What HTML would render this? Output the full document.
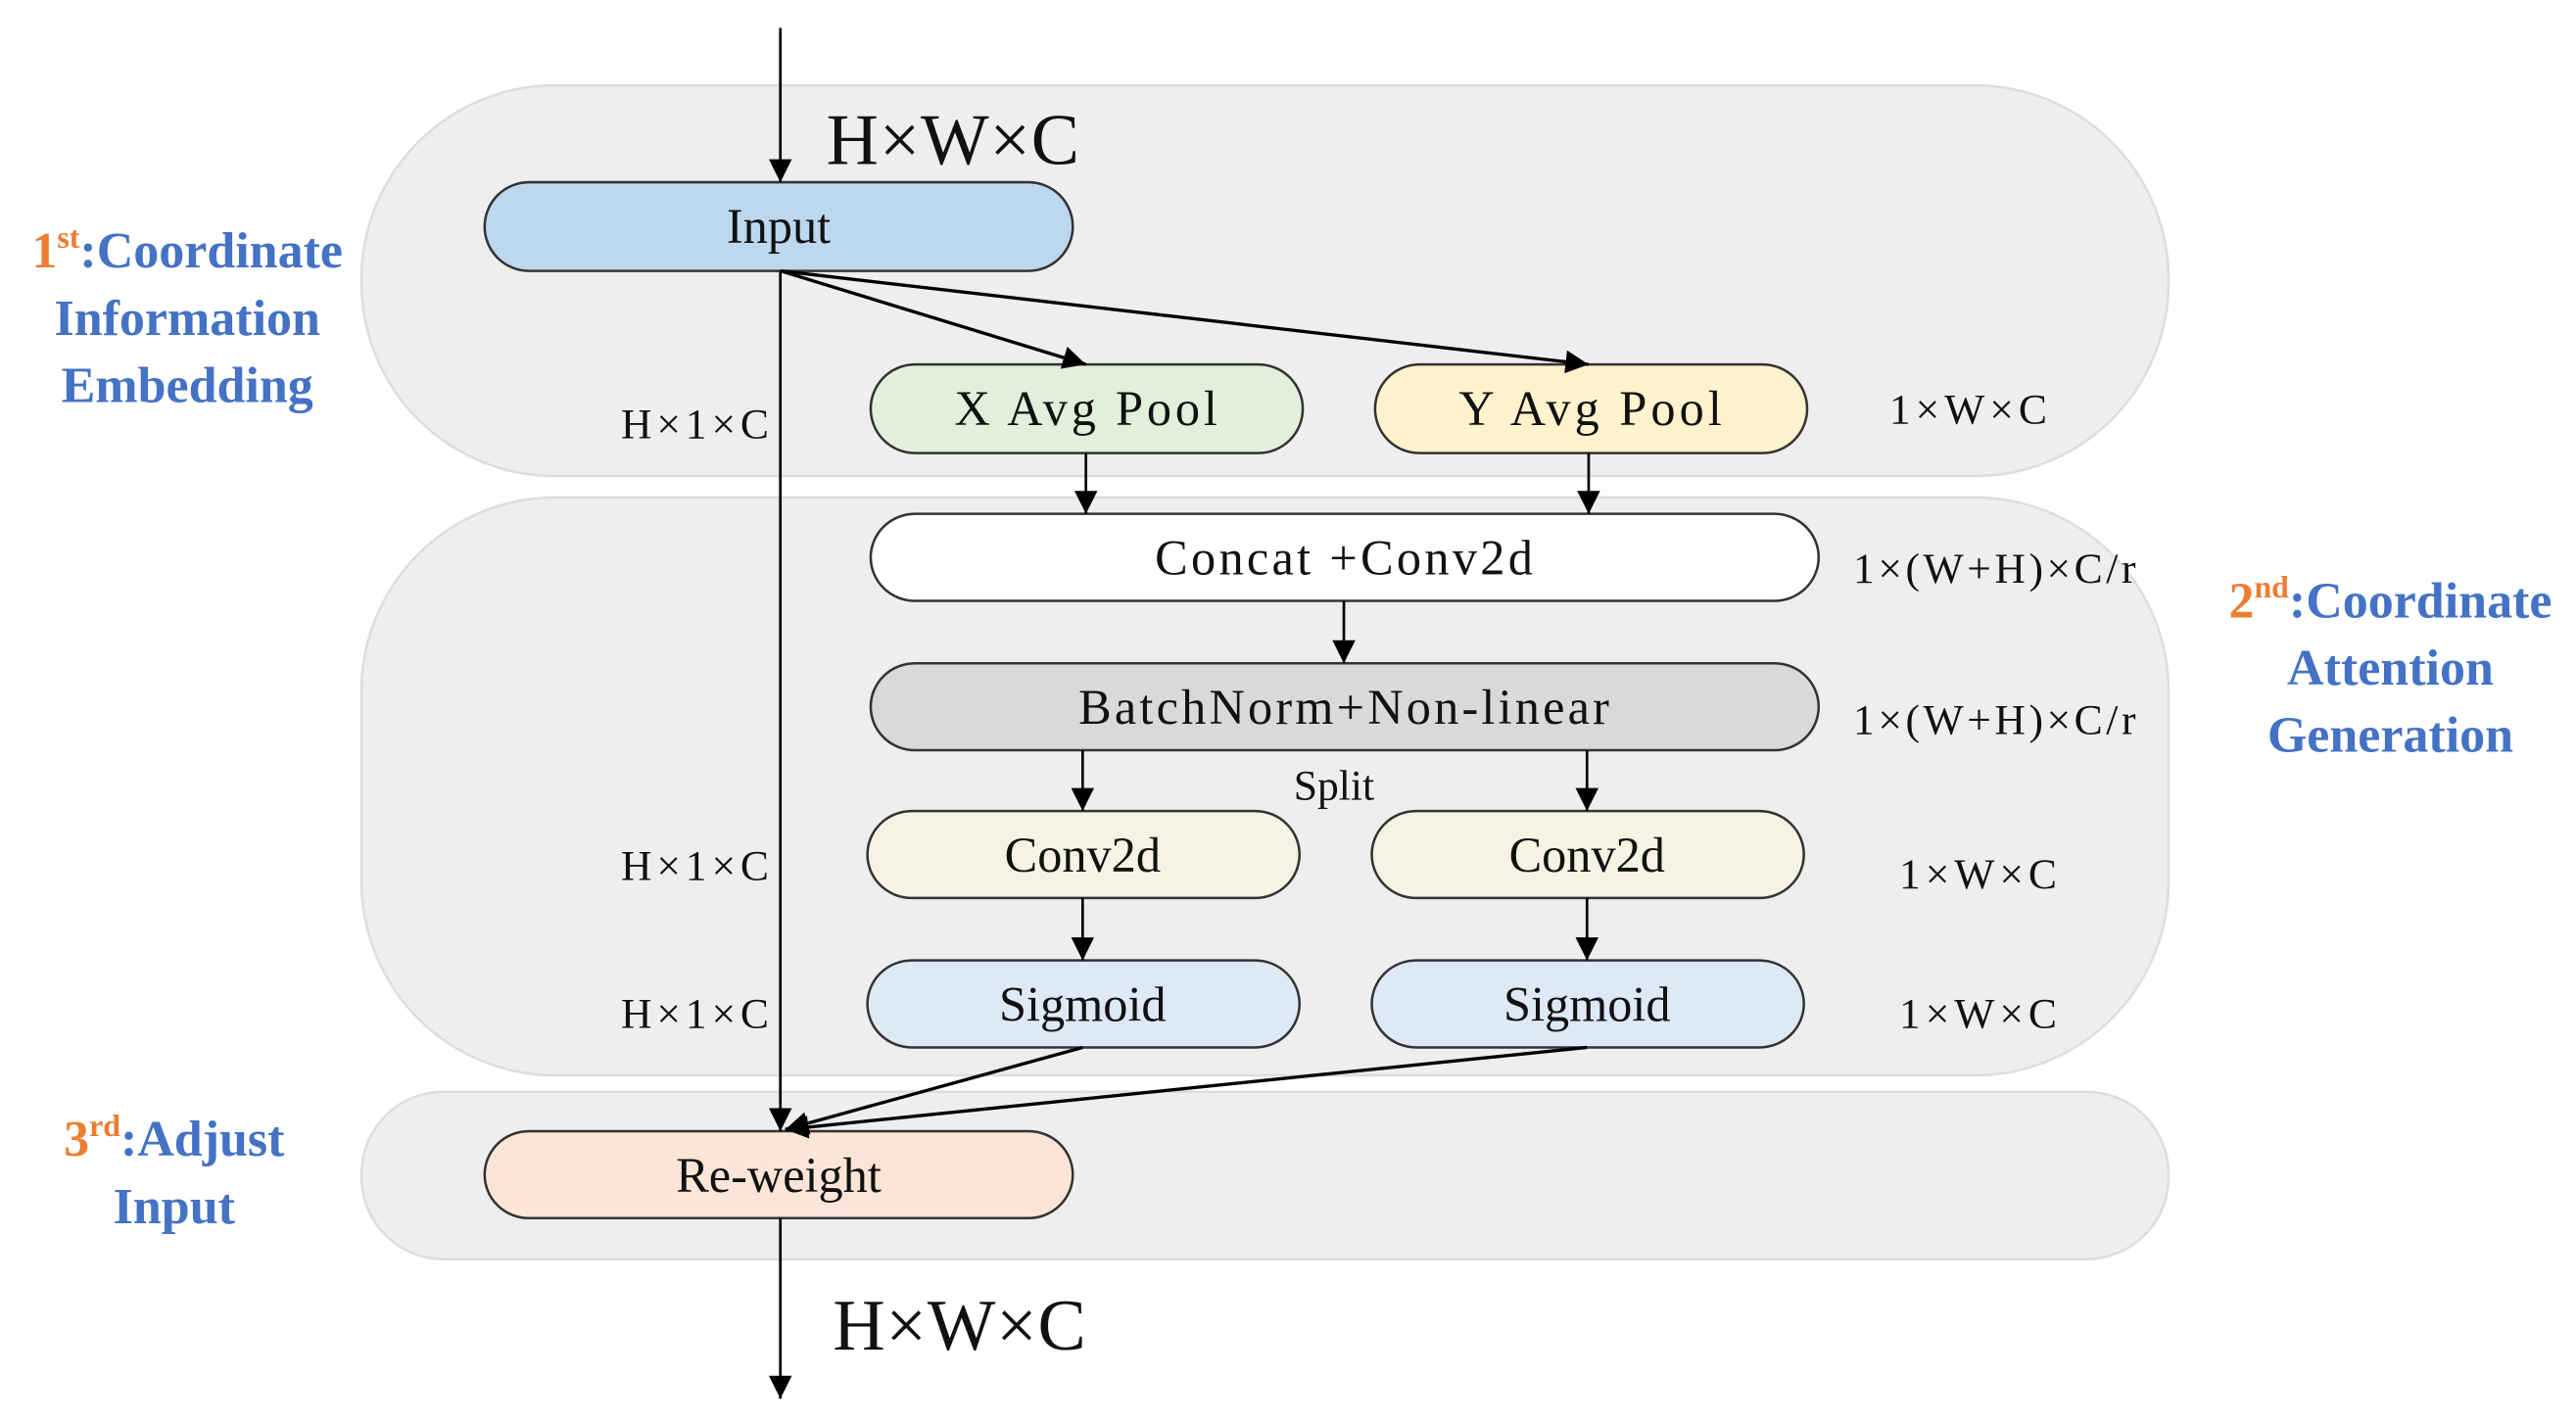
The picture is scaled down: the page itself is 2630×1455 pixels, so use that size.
<!DOCTYPE html>
<html><head><meta charset="utf-8"><style>
html,body{margin:0;padding:0;background:#fff;}
svg{display:block;}
text{font-family:"Liberation Serif",serif;}
</style></head><body>
<svg width="2630" height="1455" viewBox="0 0 1568 868" preserveAspectRatio="none" xmlns="http://www.w3.org/2000/svg">
<defs>
<marker id="b" viewBox="0 0 10 10" markerWidth="16" markerHeight="14" refX="10" refY="5" orient="auto" markerUnits="userSpaceOnUse"><path d="M0,0 L10,5 L0,10 Z" fill="#000"/></marker>
</defs>
<rect x="220" y="52" width="1100" height="238" rx="118" fill="#eeeeee" stroke="#dddddd" stroke-width="1.5"/>
<rect x="220" y="303" width="1100" height="352" rx="118" fill="#eeeeee" stroke="#dddddd" stroke-width="1.5"/>
<rect x="220" y="665" width="1100" height="102" rx="50" fill="#eeeeee" stroke="#dddddd" stroke-width="1.5"/>

<g stroke="#333" stroke-width="1.5">
<rect x="295" y="111" width="358" height="54" rx="27" fill="#bdd7ee"/>
<rect x="530" y="222" width="263" height="54" rx="27" fill="#e2efda"/>
<rect x="837" y="222" width="263" height="54" rx="27" fill="#fff2cc"/>
<rect x="530" y="313" width="577" height="53" rx="27" fill="#ffffff"/>
<rect x="530" y="404" width="577" height="53" rx="27" fill="#d9d9d9"/>
<rect x="528" y="494" width="263" height="53" rx="27" fill="#f5f3e2"/>
<rect x="835" y="494" width="263" height="53" rx="27" fill="#f5f3e2"/>
<rect x="528" y="585" width="263" height="53" rx="27" fill="#dde9f6"/>
<rect x="835" y="585" width="263" height="53" rx="27" fill="#dde9f6"/>
<rect x="295" y="689" width="358" height="53" rx="27" fill="#fbe5d6"/>
</g>

<g stroke="#000" stroke-width="1.6" fill="none">
<line x1="475" y1="17" x2="475" y2="111" marker-end="url(#b)"/>
<line x1="475" y1="165" x2="475" y2="689" marker-end="url(#b)"/>
<line x1="475" y1="165" x2="661" y2="222" stroke-width="2" marker-end="url(#b)"/>
<line x1="475" y1="165" x2="967" y2="222" stroke-width="2" marker-end="url(#b)"/>
<line x1="661" y1="276" x2="661" y2="313" marker-end="url(#b)"/>
<line x1="967" y1="276" x2="967" y2="313" marker-end="url(#b)"/>
<line x1="818" y1="366" x2="818" y2="404" marker-end="url(#b)"/>
<line x1="659" y1="457" x2="659" y2="494" marker-end="url(#b)"/>
<line x1="966" y1="457" x2="966" y2="494" marker-end="url(#b)"/>
<line x1="659" y1="547" x2="659" y2="585" marker-end="url(#b)"/>
<line x1="966" y1="547" x2="966" y2="585" marker-end="url(#b)"/>
<line x1="659" y1="638" x2="478" y2="688" stroke-width="2" marker-end="url(#b)"/>
<line x1="966" y1="638" x2="478" y2="688" stroke-width="2" marker-end="url(#b)"/>
<line x1="475" y1="742" x2="475" y2="852" marker-end="url(#b)"/>
</g>

<g font-size="30" fill="#111" text-anchor="middle">
<text x="474" y="148">Input</text>
<text x="661" y="259" textLength="160">X Avg Pool</text>
<text x="968" y="259" textLength="160">Y Avg Pool</text>
<text x="818" y="350" textLength="230">Concat +Conv2d</text>
<text x="818" y="441" textLength="323">BatchNorm+Non-linear</text>
<text x="659" y="531">Conv2d</text>
<text x="966" y="531">Conv2d</text>
<text x="659" y="622">Sigmoid</text>
<text x="966" y="622">Sigmoid</text>
<text x="474" y="726">Re-weight</text>
<text x="812" y="487" font-size="26">Split</text>
</g>

<g font-size="44" fill="#111">
<text x="503" y="100" textLength="154">H×W×C</text>
<text x="507" y="822" textLength="154">H×W×C</text>
</g>
<g font-size="26" fill="#111">
<text x="378" y="267" textLength="90">H×1×C</text>
<text x="1150" y="258" textLength="96">1×W×C</text>
<text x="1128" y="355" textLength="172">1×(W+H)×C/r</text>
<text x="1128" y="447" textLength="172">1×(W+H)×C/r</text>
<text x="378" y="536" textLength="90">H×1×C</text>
<text x="1156" y="541" textLength="96">1×W×C</text>
<text x="378" y="626" textLength="90">H×1×C</text>
<text x="1156" y="626" textLength="96">1×W×C</text>
</g>

<g font-size="31" font-weight="bold" fill="#4472c4" text-anchor="middle">
<text x="114" y="163"><tspan fill="#ed7d31">1<tspan font-size="19" dy="-12">st</tspan></tspan><tspan dy="12">:Coordinate</tspan></text>
<text x="114" y="204">Information</text>
<text x="114" y="245">Embedding</text>
<text x="1455" y="376"><tspan fill="#ed7d31">2<tspan font-size="19" dy="-12">nd</tspan></tspan><tspan dy="12">:Coordinate</tspan></text>
<text x="1455" y="417">Attention</text>
<text x="1455" y="458">Generation</text>
<text x="106" y="704"><tspan fill="#ed7d31">3<tspan font-size="19" dy="-12">rd</tspan></tspan><tspan dy="12">:Adjust</tspan></text>
<text x="106" y="745">Input</text>
</g>
</svg>
</body></html>
